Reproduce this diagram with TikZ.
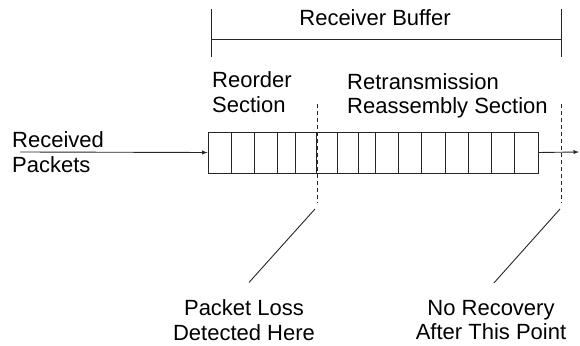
\documentclass[tikz,border=0pt]{standalone}
\usepackage{fontspec}
\setmainfont{Liberation Sans}
\usetikzlibrary{shapes,arrows,positioning,calc}

\begin{document}
\begin{tikzpicture}[x=1pt, y=1pt,
    every node/.style={font=\fontsize{22}{24.5}\selectfont, inner sep=0pt},
    line/.style={draw, line width=0.9pt, black!85},
    marker/.style={line, dash pattern=on 4pt off 3pt}]
    \useasboundingbox (0,0) rectangle (580,345);

    % receiver buffer bracket
    \coordinate (bufL) at (211,306);
    \coordinate (bufR) at (561,306);
    \draw [line] (bufL) -- (bufR);
    \draw [line] ([yshift=30]bufL) -- ([yshift=-18]bufL);
    \draw [line] ([yshift=30]bufR) -- ([yshift=-18]bufR);
    \node (title) at (375,327) {Receiver Buffer};

    % section labels
    \node (reorder) [align=left, anchor=west] at (212,253) {Reorder\\Section};
    \node (retrans) [align=left, anchor=west] at (347,249) {Retransmission\\Reassembly Section};

    % the buffer itself
    \node (buffer) [line, rectangle, minimum width=330, minimum height=41] at (373,192.5) {};
    \foreach \x in {24,47,70,88,109,130,151,168,191,214,238,261,284,307}
        \draw [line] ($(buffer.south west)+(\x,0)$) -- ($(buffer.north west)+(\x,0)$);

    \node (received) [align=left, anchor=west] at (12,193) {Received\\Packets};
    \coordinate (in) at (20,193);
    \coordinate (out) at (579,193);
    \draw [line, -latex] (in) -- (buffer.west);
    \draw [line, -latex] (buffer.east) -- (out);

    % loss and recovery markers
    \coordinate (lossTop) at (317,241);
    \coordinate (lossBot) at (317,142);
    \coordinate (recTop) at (561,241);
    \coordinate (recBot) at (561,142);
    \draw [marker] (lossTop) -- (lossBot);
    \draw [marker] (recTop) -- (recBot);

    \node (loss) [align=center] at (244,25) {Packet Loss\\Detected Here};
    \node (norecovery) [align=center] at (491,25) {No Recovery\\After This Point};
    \draw [line] ([shift={(-2,-6)}]lossBot) -- ([shift={(5,17)}]loss.north);
    \draw [line] ([shift={(-1,-6)}]recBot) -- ([shift={(3,17)}]norecovery.north);
\end{tikzpicture}
\end{document}
